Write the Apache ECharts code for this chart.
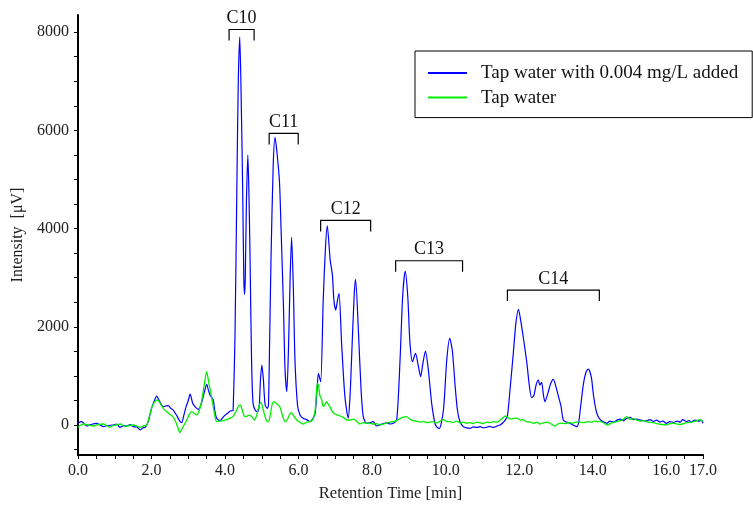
<!DOCTYPE html>
<html>
<head>
<meta charset="utf-8">
<script src="https://cdn.jsdelivr.net/npm/echarts@6/dist/echarts.min.js"></script>
<style>
html,body{margin:0;padding:0;background:#fff;}
#chart{width:753px;height:513px;}
</style>
</head>
<body>
<div id="chart"></div>
<script>
// ---- data ----
const blueName = 'Tap water with 0.004 mg/L added';
const greenName = 'Tap water';

const blueTime = [0.00,0.10,0.24,0.35,0.51,0.60,0.69,0.80,0.96,1.05,1.14,1.25,1.32,1.42,1.51,1.60,1.69,1.76,1.83,1.91,
 2.00,2.07,2.14,2.22,2.32,2.40,2.46,2.52,2.59,2.68,2.76,2.82,2.88,2.94,3.00,3.05,3.12,3.20,3.28,3.36,3.43,3.50,3.55,3.59,3.64,3.68,3.72,3.77,3.86,3.94,
 4.00,4.07,4.14,4.20,4.22,4.27,4.32,4.36,4.40,4.44,4.48,4.51,4.53,4.55,4.58,4.62,4.65,4.68,4.72,4.76,4.82,4.88,4.93,4.96,
 5.00,5.04,5.09,5.15,5.18,5.21,5.25,5.31,5.36,5.41,5.48,5.52,5.59,5.63,5.68,5.73,5.77,5.81,5.86,5.90,5.97,
 6.04,6.13,6.22,6.31,6.38,6.45,6.50,6.54,6.60,6.67,6.73,6.78,6.86,6.92,6.96,7.01,7.06,7.10,7.17,7.26,7.35,7.40,7.44,7.51,7.55,7.63,7.70,7.76,7.85,7.94,
 8.03,8.12,8.21,8.30,8.40,8.49,8.58,8.67,8.76,8.83,8.90,8.97,9.03,9.10,9.18,9.26,9.32,9.38,9.45,9.53,9.62,9.71,9.77,9.83,9.94,
 10.03,10.11,10.18,10.26,10.32,10.39,10.48,10.57,10.66,10.75,10.84,10.94,11.03,11.11,11.20,11.30,11.40,11.48,11.55,11.62,11.68,11.75,11.84,11.91,11.98,
 12.04,12.11,12.21,12.28,12.34,12.40,12.46,12.52,12.56,12.61,12.66,12.70,12.78,12.86,12.93,13.00,13.07,13.14,13.20,13.28,13.38,13.47,13.57,13.62,13.66,13.75,13.82,13.88,13.96,
 14.02,14.09,14.15,14.22,14.29,14.38,14.47,14.56,14.66,14.75,14.84,14.93,15.02,15.10,15.20,15.30,15.38,15.47,15.56,15.65,15.74,15.82,15.91,
 16.00,16.10,16.20,16.30,16.38,16.45,16.55,16.62,16.68,16.78,16.90,16.95,17.00];
const blueValue = [40,68,-20,10,34,0,-34,-10,0,20,-47,-10,-20,10,-34,-40,-100,-60,-47,68,
 340,480,590,480,373,390,394,340,305,200,90,47,200,373,500,631,441,360,320,450,650,828,700,611,560,509,300,136,88,150,
 200,240,285,290,300,1800,4800,7000,7900,6600,4750,3000,2660,3000,4500,5500,4700,3393,1357,450,300,270,400,882,
 1221,950,407,340,400,1600,3393,5293,5856,5564,4953,4071,2375,1154,678,1696,3000,3821,2714,1357,407,
 204,130,110,67,120,238,700,1052,882,2545,3600,4057,3359,3053,2545,2341,2550,2681,1663,577,136,600,1323,2612,2966,1866,712,170,34,47,
 67,-20,0,30,45,20,34,102,1323,2612,3135,2612,1663,1289,1459,1187,984,1250,1506,1120,441,34,-47,-68,305,
 1323,1765,1527,780,305,67,-34,-60,-68,-40,-50,-34,-60,-47,-30,-50,-20,0,40,100,180,712,1459,2070,2355,
 2137,1797,1256,780,557,600,814,916,814,870,611,475,645,849,930,780,577,373,102,60,34,0,-34,60,305,849,1085,1140,984,
 611,305,170,100,67,34,80,60,100,120,90,136,157,110,120,100,90,88,110,70,100,60,80,
 34,70,50,80,60,110,70,90,60,100,80,100,34];

const greenTime = [0.00,0.08,0.15,0.28,0.42,0.55,0.69,0.78,0.87,0.96,1.05,1.15,1.28,1.40,1.51,1.60,1.69,1.78,1.87,1.95,
 2.02,2.09,2.17,2.25,2.33,2.41,2.50,2.58,2.66,2.72,2.77,2.84,2.90,2.96,3.03,3.09,3.16,3.23,3.30,3.36,3.43,3.50,3.56,3.64,3.70,3.77,3.86,3.94,
 4.00,4.06,4.12,4.20,4.30,4.36,4.41,4.47,4.52,4.57,4.64,4.71,4.76,4.80,4.86,4.92,4.97,
 5.00,5.06,5.12,5.18,5.23,5.28,5.33,5.40,5.49,5.56,5.63,5.70,5.76,5.81,5.87,5.95,
 6.04,6.13,6.22,6.31,6.38,6.45,6.51,6.54,6.58,6.63,6.67,6.72,6.76,6.80,6.85,6.92,6.96,7.03,7.13,7.22,7.31,7.40,7.49,7.54,7.60,7.67,7.76,7.85,7.94,
 8.03,8.12,8.20,8.30,8.40,8.50,8.58,8.67,8.76,8.85,8.94,9.03,9.12,9.21,9.30,9.40,9.50,9.58,9.67,9.76,9.85,9.94,
 10.03,10.12,10.20,10.30,10.39,10.48,10.57,10.66,10.75,10.85,10.94,11.03,11.12,11.21,11.30,11.40,11.48,11.55,11.62,11.70,11.78,11.86,11.94,
 12.02,12.10,12.20,12.30,12.40,12.48,12.56,12.65,12.75,12.85,12.97,13.05,13.15,13.25,13.35,13.45,13.55,13.66,13.76,13.86,13.96,
 14.05,14.15,14.20,14.30,14.40,14.50,14.60,14.70,14.80,14.93,15.02,15.10,15.20,15.30,15.40,15.50,15.60,15.70,15.80,15.90,
 16.00,16.10,16.20,16.30,16.40,16.50,16.60,16.70,16.80,16.90,17.00];
const greenValue = [-47,0,20,0,-20,10,20,-10,-47,-10,0,20,-34,-10,0,-20,-47,-20,0,200,
 380,475,509,420,330,271,220,170,60,-60,-156,-60,20,102,220,271,240,203,300,475,800,1085,850,543,280,68,80,90,
 102,110,136,160,280,380,407,300,180,170,200,183,140,102,200,380,461,
 420,250,100,68,200,420,475,440,373,200,68,120,220,250,180,102,
 50,20,60,68,100,300,849,814,600,509,373,420,475,430,373,271,240,210,183,150,102,100,120,102,60,20,50,34,40,
 20,30,0,20,40,60,67,90,130,160,170,120,90,80,60,70,50,60,67,40,80,110,
 70,67,50,80,40,60,34,50,30,60,45,30,60,50,70,60,100,140,183,150,120,136,140,
 100,110,70,60,34,60,20,40,60,30,-20,20,40,30,50,40,60,60,50,70,60,
 80,70,75,40,0,40,60,80,100,170,115,130,100,80,90,60,50,40,20,10,
 0,30,40,20,10,40,50,60,80,110,75];

// peak-group brackets
const bracketLabels = ['C10','C11','C12','C13','C14'];
const bracketStart = [4.11, 5.20, 6.60, 8.64, 11.68];
const bracketEnd   = [4.79, 5.99, 7.96, 10.46, 14.18];
const bracketTop   = [8055, 5938, 4167, 3345, 2748];

// axis ticks / labels
const xLabelValues = [0,2,4,6,8,10,12,14,16,17];
const xTickValues = [0,0.5,1,1.5,2,2.5,3,3.5,4,4.5,5,5.5,6,6.5,7,7.5,8,8.5,9,9.5,10,10.5,11,11.5,12,12.5,13,13.5,14,14.5,15,15.5,16,16.5,17];
const yLabelValues = [0,2000,4000,6000,8000];
const yTickValues = [-500,0,500,1000,1500,2000,2500,3000,3500,4000,4500,5000,5500,6000,6500,7000,7500,8000];

const FONT = '"Liberation Serif", "Times New Roman", serif';

const blueData = blueTime.map((t, i) => [t, blueValue[i]]);
const greenData = greenTime.map((t, i) => [t, greenValue[i]]);
const bracketData = bracketLabels.map((l, i) => [bracketStart[i], bracketEnd[i], bracketTop[i], l]);

const chart = echarts.init(document.getElementById('chart'), null, {renderer: 'canvas'});
chart.setOption({
  animation: false,
  backgroundColor: '#fff',
  grid: {left: 78, right: 50, top: 15, bottom: 58, containLabel: false},
  legend: {
    data: [blueName, greenName],
    orient: 'vertical',
    left: 415, top: 51,
    padding: [12, 14, 10, 13],
    borderColor: '#000', borderWidth: 1,
    icon: 'rect',
    itemWidth: 39, itemHeight: 2, itemGap: 4.6,
    textStyle: {fontFamily: FONT, fontSize: 19, color: '#111', lineHeight: 20, padding: [0,0,0,9]},
    selectedMode: false
  },
  xAxis: {
    type: 'value', min: 0, max: 17,
    name: 'Retention Time [min]', nameLocation: 'middle', nameGap: 30,
    nameTextStyle: {fontFamily: FONT, fontSize: 16.5, color: '#222'},
    axisLine: {onZero: false, lineStyle: {color: '#000', width: 2}},
    axisTick: {show: true, customValues: xTickValues, length: 4, lineStyle: {color: '#000', width: 1}},
    axisLabel: {customValues: xLabelValues, formatter: v => Number(v).toFixed(1), fontFamily: FONT, fontSize: 16, color: '#222', margin: 8},
    splitLine: {show: false}
  },
  yAxis: {
    type: 'value', min: -611, max: 8350,
    name: 'Intensity  [\u03bcV]', nameLocation: 'middle', nameGap: 51, nameRotate: 90,
    nameTextStyle: {fontFamily: FONT, fontSize: 16, color: '#222'},
    axisLine: {show: true, onZero: false, lineStyle: {color: '#000', width: 2}},
    axisTick: {show: true, customValues: yTickValues, length: 4, lineStyle: {color: '#000', width: 1}},
    axisLabel: {customValues: yLabelValues, formatter: v => String(Math.round(v)), fontFamily: FONT, fontSize: 16, color: '#222', margin: 9},
    splitLine: {show: false}
  },
  series: [
    {
      name: blueName, type: 'line', data: blueData, symbol: 'none', smooth: 0.25,
      lineStyle: {color: '#0000ff', width: 1.2}, itemStyle: {color: '#0000ff'}, z: 2
    },
    {
      name: greenName, type: 'line', data: greenData, symbol: 'none', smooth: 0.25,
      lineStyle: {color: '#00f000', width: 1.3}, itemStyle: {color: '#00f000'}, z: 3
    },
    {
      type: 'custom', name: 'brackets', data: bracketData, clip: false, z: 5,
      encode: {x: [0, 1], y: 2},
      renderItem: function (params, api) {
        const s = api.coord([api.value(0), api.value(2)]);
        const e = api.coord([api.value(1), api.value(2)]);
        const label = bracketLabels[params.dataIndex];
        return {
          type: 'group',
          children: [
            {type: 'polyline', shape: {points: [[s[0], s[1] + 11], [s[0], s[1]], [e[0], e[1]], [e[0], e[1] + 11]]},
             style: {stroke: '#000', lineWidth: 1.2, fill: null}},
            {type: 'text', style: {text: label, x: (s[0] + e[0]) / 2, y: s[1] - 2, align: 'center', verticalAlign: 'bottom',
             font: '18px ' + FONT, fill: '#111'}}
          ]
        };
      }
    }
  ]
});
</script>
</body>
</html>
